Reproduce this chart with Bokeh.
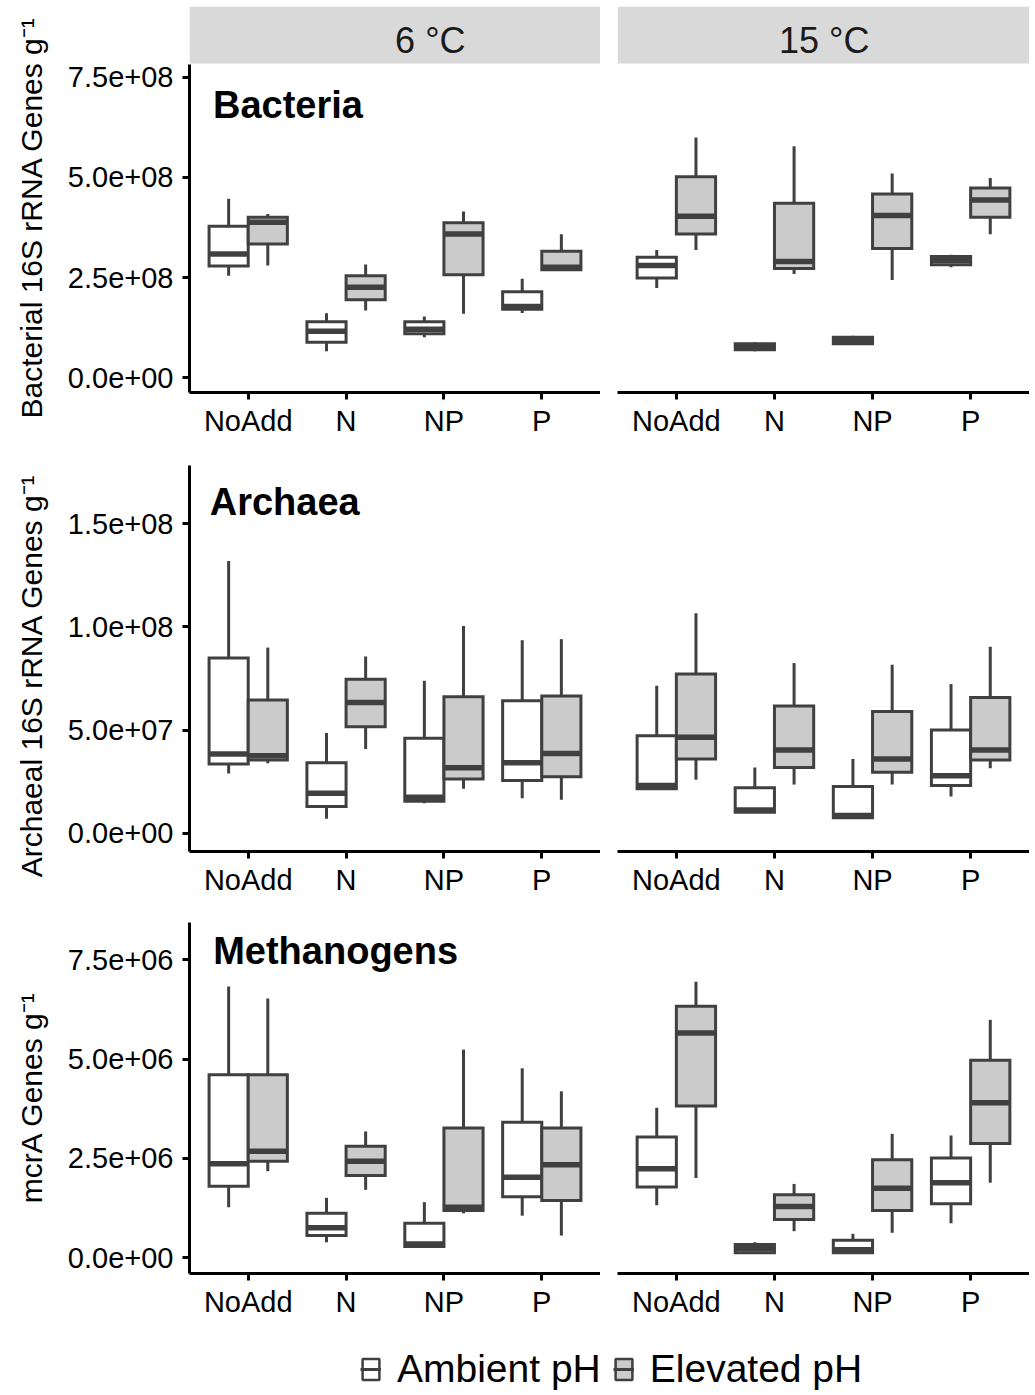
import math
import numpy as np
from bokeh.plotting import figure
from bokeh.layouts import column, row
from bokeh.models import Range1d, FixedTicker, Label, ColumnDataSource, BoxAnnotation
from bokeh.embed import file_html
from bokeh.resources import INLINE

# ---------------- data ----------------
treatments = ["NoAdd", "N", "NP", "P"]
temperatures = ["6 °C", "15 °C"]
ph_levels = ["Ambient pH", "Elevated pH"]

# per treatment: [lower whisker, Q1, median, Q3, upper whisker]
bacteria_6_ambient = [
    [2.55e8, 2.79e8, 3.09e8, 3.78e8, 4.47e8],
    [0.66e8, 0.89e8, 1.16e8, 1.40e8, 1.61e8],
    [1.01e8, 1.10e8, 1.21e8, 1.40e8, 1.53e8],
    [1.62e8, 1.71e8, 1.78e8, 2.15e8, 2.47e8],
]
bacteria_6_elevated = [
    [2.80e8, 3.34e8, 3.88e8, 4.01e8, 4.09e8],
    [1.68e8, 1.95e8, 2.26e8, 2.55e8, 2.83e8],
    [1.60e8, 2.57e8, 3.59e8, 3.87e8, 4.15e8],
    [2.68e8, 2.70e8, 2.76e8, 3.16e8, 3.58e8],
]
bacteria_15_ambient = [
    [2.24e8, 2.49e8, 2.80e8, 3.01e8, 3.19e8],
    [0.66e8, 0.70e8, 0.78e8, 0.85e8, 0.89e8],
    [0.83e8, 0.85e8, 0.93e8, 1.01e8, 1.05e8],
    [2.76e8, 2.82e8, 2.93e8, 3.03e8, 3.07e8],
]
bacteria_15_elevated = [
    [3.19e8, 3.59e8, 4.03e8, 5.02e8, 6.00e8],
    [2.59e8, 2.73e8, 2.90e8, 4.36e8, 5.78e8],
    [2.44e8, 3.23e8, 4.05e8, 4.59e8, 5.10e8],
    [3.58e8, 4.01e8, 4.44e8, 4.74e8, 4.99e8],
]

archaea_6_ambient = [
    [2.90e7, 3.36e7, 3.84e7, 8.49e7, 1.32e8],
    [0.70e7, 1.29e7, 1.94e7, 3.42e7, 4.86e7],
    [1.45e7, 1.55e7, 1.74e7, 4.60e7, 7.39e7],
    [1.69e7, 2.55e7, 3.42e7, 6.42e7, 9.36e7],
]
archaea_6_elevated = [
    [3.39e7, 3.55e7, 3.76e7, 6.46e7, 9.00e7],
    [4.08e7, 5.16e7, 6.34e7, 7.47e7, 8.57e7],
    [2.15e7, 2.63e7, 3.17e7, 6.62e7, 1.005e8],
    [1.62e7, 2.74e7, 3.87e7, 6.65e7, 9.41e7],
]
archaea_15_ambient = [
    [2.15e7, 2.15e7, 2.31e7, 4.73e7, 7.15e7],
    [1.02e7, 1.02e7, 1.13e7, 2.20e7, 3.19e7],
    [0.75e7, 0.75e7, 0.86e7, 2.26e7, 3.60e7],
    [1.78e7, 2.31e7, 2.79e7, 5.00e7, 7.23e7],
]
archaea_15_elevated = [
    [2.59e7, 3.60e7, 4.65e7, 7.72e7, 1.067e8],
    [2.36e7, 3.19e7, 4.04e7, 6.17e7, 8.25e7],
    [2.36e7, 2.95e7, 3.60e7, 5.90e7, 8.17e7],
    [3.15e7, 3.55e7, 4.04e7, 6.58e7, 9.04e7],
]

methanogens_6_ambient = [
    [1.27e6, 1.80e6, 2.37e6, 4.61e6, 6.83e6],
    [0.39e6, 0.56e6, 0.755e6, 1.12e6, 1.51e6],
    [0.285e6, 0.285e6, 0.35e6, 0.87e6, 1.40e6],
    [1.06e6, 1.54e6, 2.03e6, 3.41e6, 4.77e6],
]
methanogens_6_elevated = [
    [2.18e6, 2.43e6, 2.68e6, 4.61e6, 6.53e6],
    [1.71e6, 2.07e6, 2.43e6, 2.81e6, 3.18e6],
    [1.12e6, 1.19e6, 1.27e6, 3.27e6, 5.24e6],
    [0.56e6, 1.44e6, 2.34e6, 3.27e6, 4.19e6],
]
methanogens_15_ambient = [
    [1.32e6, 1.78e6, 2.24e6, 3.04e6, 3.78e6],
    [0.126e6, 0.126e6, 0.227e6, 0.335e6, 0.393e6],
    [0.126e6, 0.13e6, 0.20e6, 0.44e6, 0.604e6],
    [0.87e6, 1.36e6, 1.89e6, 2.51e6, 3.08e6],
]
methanogens_15_elevated = [
    [2.01e6, 3.82e6, 5.66e6, 6.33e6, 6.95e6],
    [0.67e6, 0.964e6, 1.29e6, 1.59e6, 1.86e6],
    [0.63e6, 1.19e6, 1.75e6, 2.47e6, 3.12e6],
    [1.89e6, 2.88e6, 3.90e6, 4.97e6, 5.99e6],
]

bacteria_ticks = [0, 250000000, 500000000, 750000000]
bacteria_tick_labels = ["0.0e+00", "2.5e+08", "5.0e+08", "7.5e+08"]
archaea_ticks = [0, 50000000, 100000000, 150000000]
archaea_tick_labels = ["0.0e+00", "5.0e+07", "1.0e+08", "1.5e+08"]
methanogens_ticks = [0, 2500000, 5000000, 7500000]
methanogens_tick_labels = ["0.0e+00", "2.5e+06", "5.0e+06", "7.5e+06"]

axis_titles = ["Bacterial 16S rRNA Genes g⁻¹", "Archaeal 16S rRNA Genes g⁻¹", "mcrA Genes g⁻¹"]
panel_titles = ["Bacteria", "Archaea", "Methanogens"]

# ---------------- style ----------------
FONT = "Liberation Sans"
BOX_LINE = "#404040"
FILLS = {"Ambient pH": "#ffffff", "Elevated pH": "#cbcbcb"}
OFFSETS = {"Ambient pH": -0.2, "Elevated pH": 0.2}
HALF_W = 0.2
LABEL_COL_W = 50
LEFT_BORDER = 139
LEFT_FRAME_W = 411
RIGHT_BORDER = 17
RIGHT_FRAME_W = 412


def make_panel(stats_by_ph, y_range, axis_top, ticks, tick_labels, height, border_top,
               border_bottom, first_col, title=None, title_xy=None,
               strip=None, strip_bottom=None, strip_xy=None):
    width = (LEFT_BORDER + LEFT_FRAME_W) if first_col else (RIGHT_BORDER + RIGHT_FRAME_W)
    p = figure(width=width, height=height,
               x_range=Range1d(0.4, 4.6), y_range=Range1d(*y_range),
               toolbar_location=None, output_backend="svg",
               min_border_left=LEFT_BORDER if first_col else RIGHT_BORDER,
               min_border_right=0, min_border_top=border_top,
               min_border_bottom=border_bottom,
               y_axis_location="left" if first_col else None,
               outline_line_color=None, background_fill_color="white",
               border_fill_color="white")
    p.grid.visible = False

    xa = p.xaxis[0]
    xa.ticker = FixedTicker(ticks=[i + 1 for i in range(len(treatments))])
    xa.major_label_overrides = {i + 1: t for i, t in enumerate(treatments)}
    xa.axis_line_width = 3
    xa.axis_line_color = "black"
    xa.major_tick_line_width = 3
    xa.major_tick_line_color = "black"
    xa.major_tick_out = 7
    xa.major_tick_in = 0
    xa.minor_tick_line_color = None
    xa.major_label_text_font = FONT
    xa.major_label_text_font_size = "29px"
    xa.major_label_text_color = "black"
    xa.major_label_standoff = 5

    if first_col:
        ya = p.yaxis[0]
        ya.ticker = FixedTicker(ticks=ticks)
        ya.major_label_overrides = dict(zip(ticks, tick_labels))
        ya.bounds = (y_range[0], axis_top)
        ya.axis_line_width = 3
        ya.axis_line_color = "black"
        ya.major_tick_line_width = 3
        ya.major_tick_line_color = "black"
        ya.major_tick_out = 7
        ya.major_tick_in = 0
        ya.minor_tick_line_color = None
        ya.major_label_text_font = FONT
        ya.major_label_text_font_size = "29px"
        ya.major_label_text_color = "black"
        ya.major_label_standoff = 9

    for ph in ph_levels:
        arr = np.array(stats_by_ph[ph])
        xc = np.arange(1, len(treatments) + 1) + OFFSETS[ph]
        src = ColumnDataSource(dict(
            x=xc, left=xc - HALF_W, right=xc + HALF_W,
            lo=arr[:, 0], q1=arr[:, 1], med=arr[:, 2], q3=arr[:, 3], hi=arr[:, 4]))
        p.segment(x0="x", y0="lo", x1="x", y1="q1", source=src,
                  line_color=BOX_LINE, line_width=3)
        p.segment(x0="x", y0="q3", x1="x", y1="hi", source=src,
                  line_color=BOX_LINE, line_width=3)
        p.quad(left="left", right="right", bottom="q1", top="q3", source=src,
               fill_color=FILLS[ph], line_color=BOX_LINE, line_width=3,
               line_join="miter")
        p.segment(x0="left", y0="med", x1="right", y1="med", source=src,
                  line_color=BOX_LINE, line_width=5.5)

    if title:
        p.add_layout(Label(x=title_xy[0], y=title_xy[1], text=title,
                           text_font=FONT, text_font_style="bold",
                           text_font_size="38px", text_color="black",
                           text_baseline="middle", text_align="left"))
    if strip:
        p.add_layout(BoxAnnotation(bottom=strip_bottom, fill_color="#d9d9d9",
                                   fill_alpha=1.0, line_color=None))
        p.add_layout(Label(x=strip_xy[0], y=strip_xy[1], text=strip,
                           text_align="center", text_baseline="middle",
                           text_font=FONT, text_font_size="36px",
                           text_color="#1a1a1a"))
    return p


def make_axis_title(text, height, center_from_top):
    f = figure(width=LABEL_COL_W, height=height,
               x_range=Range1d(0, LABEL_COL_W), y_range=Range1d(height, 0),
               x_axis_location=None, y_axis_location=None,
               toolbar_location=None, output_backend="svg",
               min_border_left=0, min_border_right=0, min_border_top=0,
               min_border_bottom=0, outline_line_color=None)
    f.grid.visible = False
    f.add_layout(Label(x=31, y=center_from_top, text=text, angle=math.pi / 2,
                       text_align="center", text_baseline="middle",
                       text_font=FONT, text_font_size="30px", text_color="black"))
    return f


# axis limits (bacteria row extended upwards to hold the facet strip)
bact_range = (-3.67e7, 9.268e8)
bact_axis_top = 7.82e8
bact_strip_bottom = 7.845e8
arch_range = (-8.87e6, 1.783e8)
meth_range = (-3.95e5, 8.44e6)

p11 = make_panel({"Ambient pH": bacteria_6_ambient, "Elevated pH": bacteria_6_elevated},
                 bact_range, bact_axis_top, bacteria_ticks, bacteria_tick_labels,
                 465, 6, 73, True, panel_titles[0], (0.64, 6.82e8),
                 temperatures[0], bact_strip_bottom, (2.861, 8.42e8))
p12 = make_panel({"Ambient pH": bacteria_15_ambient, "Elevated pH": bacteria_15_elevated},
                 bact_range, bact_axis_top, bacteria_ticks, bacteria_tick_labels,
                 465, 6, 73, False, None, None,
                 temperatures[1], bact_strip_bottom, (2.508, 8.42e8))
p21 = make_panel({"Ambient pH": archaea_6_ambient, "Elevated pH": archaea_6_elevated},
                 arch_range, arch_range[1], archaea_ticks, archaea_tick_labels,
                 457, 0, 71, True, panel_titles[1], (0.607, 1.608e8))
p22 = make_panel({"Ambient pH": archaea_15_ambient, "Elevated pH": archaea_15_elevated},
                 arch_range, arch_range[1], archaea_ticks, archaea_tick_labels,
                 457, 0, 71, False)
p31 = make_panel({"Ambient pH": methanogens_6_ambient, "Elevated pH": methanogens_6_elevated},
                 meth_range, meth_range[1], methanogens_ticks, methanogens_tick_labels,
                 398, 0, 47, True, panel_titles[2], (0.642, 7.735e6))
p32 = make_panel({"Ambient pH": methanogens_15_ambient, "Elevated pH": methanogens_15_elevated},
                 meth_range, meth_range[1], methanogens_ticks, methanogens_tick_labels,
                 398, 0, 47, False)

lab1 = make_axis_title(axis_titles[0], 465, 217)
lab2 = make_axis_title(axis_titles[1], 457, 210)
lab3 = make_axis_title(axis_titles[2], 398, 175)

# legend figure
lf = figure(width=RIGHT_BORDER + RIGHT_FRAME_W + LEFT_BORDER + LEFT_FRAME_W, height=73,
            x_range=Range1d(0, 1), y_range=Range1d(0, 1),
            x_axis_location=None, y_axis_location=None,
            toolbar_location=None, output_backend="svg",
            min_border_left=0, min_border_right=0, min_border_top=0, min_border_bottom=0,
            outline_line_color=None)
lf.grid.visible = False
for ph in ph_levels:
    lf.quad(left=[np.nan], right=[np.nan], bottom=[np.nan], top=[np.nan],
            fill_color=FILLS[ph], line_color=BOX_LINE, line_width=2.5, legend_label=ph)
    lf.segment(x0=[np.nan], y0=[np.nan], x1=[np.nan], y1=[np.nan],
               line_color=BOX_LINE, line_width=3, legend_label=ph)
lg = lf.legend[0]
lg.orientation = "horizontal"
lg.location = (310, 2)
lg.glyph_width = 21
lg.glyph_height = 26
lg.label_text_font = FONT
lg.label_text_font_size = "39px"
lg.label_text_color = "black"
lg.label_standoff = 16
lg.spacing = 12
lg.padding = 0
lg.margin = 0
lg.border_line_color = None
lg.background_fill_alpha = 0

left_col = column(lab1, lab2, lab3)
right_col = column(row(p11, p12), row(p21, p22), row(p31, p32), lf)
layout = row(left_col, right_col)

with open("out.html", "w") as f:
    f.write(file_html(layout, INLINE))
